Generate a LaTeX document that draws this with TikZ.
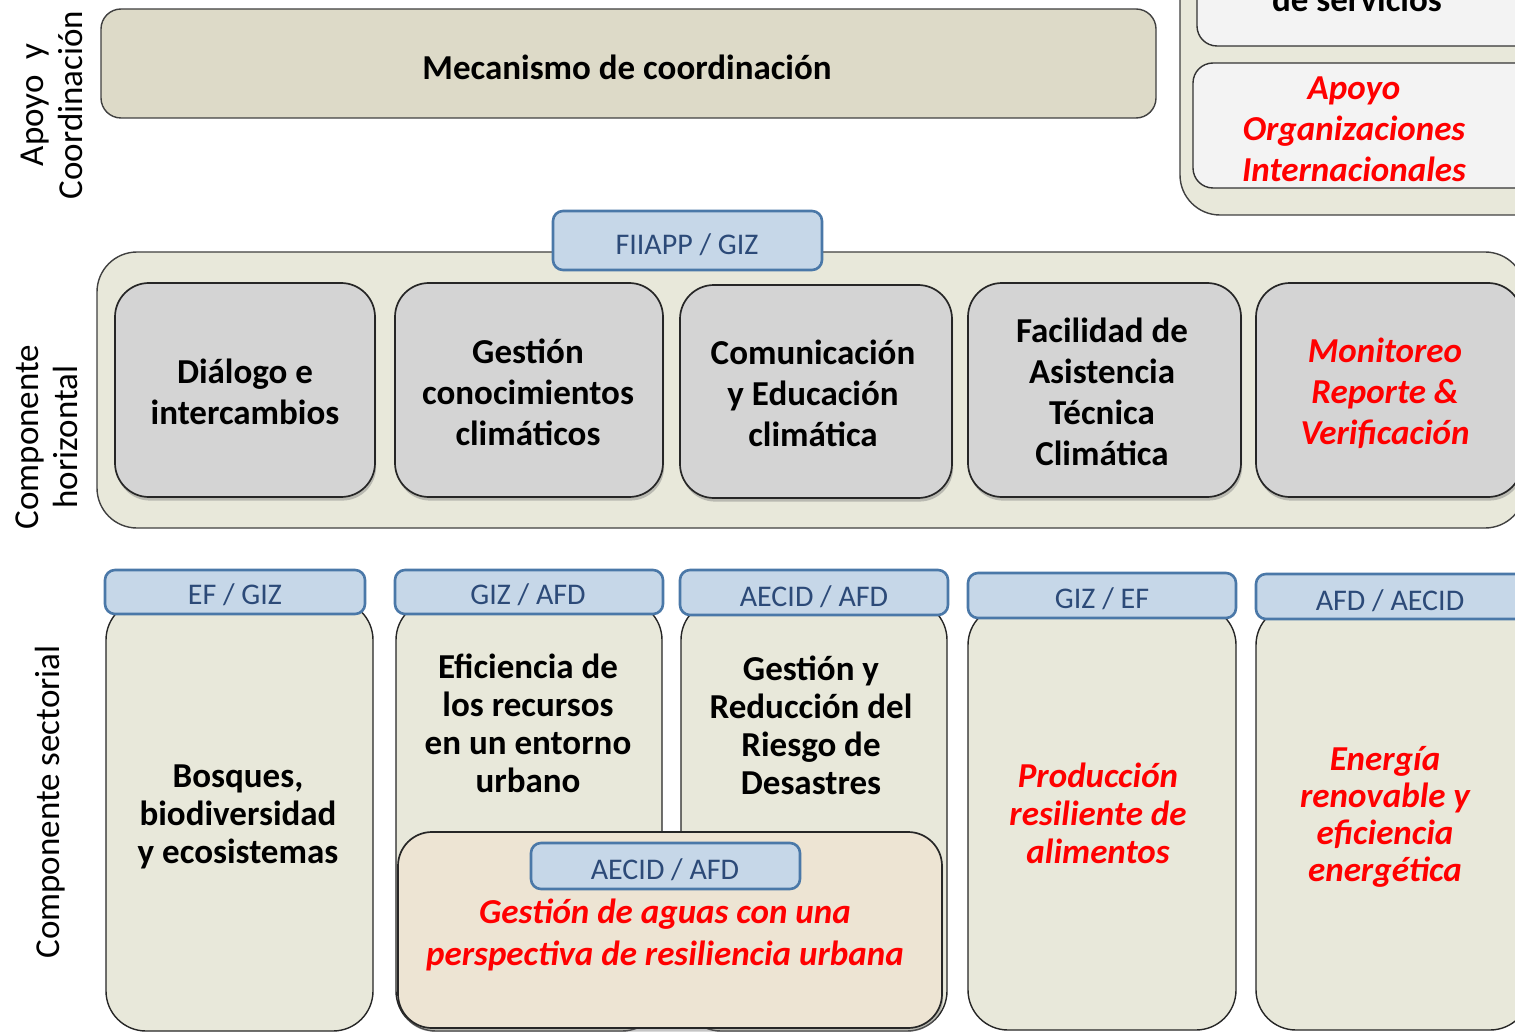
\documentclass[tikz,border=0pt]{standalone}
\usepackage{fontspec}
\setmainfont{Carlito}
\usetikzlibrary{shadows}
\definecolor{beigeL}{HTML}{E8E8DA}
\definecolor{beigeM}{HTML}{DDDAC8}
\definecolor{greyB}{HTML}{D4D4D4}
\definecolor{whiteB}{HTML}{F3F3F3}
\definecolor{waterB}{HTML}{EDE4D3}
\definecolor{tabF}{HTML}{C6D7E8}
\definecolor{tabD}{HTML}{4A78A8}
\definecolor{tabT}{HTML}{2C4A78}
\definecolor{redT}{HTML}{FF0000}
\begin{document}
\begin{tikzpicture}[x=0.5pt,y=-0.5pt,
 container/.style={draw=black!75, line width=0.7pt, fill=beigeL, rounded corners=20pt, inner sep=0pt},
 whitebox/.style={draw=black!80, line width=0.7pt, fill=whiteB, rounded corners=10pt, inner sep=0pt},
 greybox/.style={draw=black!85, line width=0.85pt, fill=greyB, rounded corners=17pt, inner sep=0pt,
   drop shadow={shadow xshift=0.6pt, shadow yshift=-1.8pt, opacity=0.45}},
 tabbox/.style={draw=tabD, line width=1.3pt, fill=tabF, rounded corners=5pt, inner sep=0pt,
   text=tabT, font=\fontsize{15}{18}\selectfont},
 tablabel/.style={text=tabT, font=\fontsize{15}{18}\selectfont},
 bodybox/.style={draw=black!85, line width=0.7pt, fill=beigeL, rounded corners=20pt, inner sep=0pt},
 bt/.style={font=\fontsize{17.5}{20.5}\selectfont\bfseries, align=center, inner sep=0pt},
 rt/.style={font=\fontsize{17.5}{20.5}\selectfont\bfseries\itshape, align=center, text=redT, inner sep=0pt},
 side/.style={font=\fontsize{17.5}{19.5}\selectfont, align=center, rotate=90, inner sep=0pt},
]
\clip (0,0) rectangle (1515,1032);
\fill[white] (0,0) rectangle (1515,1032);

% ---- Apoyo y coordinacion ----
\node[side] (lab1) at (52,105) {Apoyo~ y\\Coordinación};
\node[draw=black!75, line width=0.7pt, fill=beigeM, rounded corners=10pt, inner sep=0pt,
      minimum width=527.5pt, minimum height=54.5pt] (mec) at (628.5,63.5) {};
\node[bt] (mect) at (627,67) {Mecanismo de coordinación};

\node[container, minimum width=190pt, minimum height=137.5pt] (trc) at (1370,77.5) {};
\node[whitebox, minimum width=181.5pt, minimum height=63pt] (srv) at (1378.5,-17) {};
\node[bt, anchor=base] (srvt) at (1357,12) {de servicios};
\node[whitebox, minimum width=183.5pt, minimum height=62.5pt] (apo) at (1376.5,125.5) {};
\node[rt] (apot) at (1354,129) {Apoyo\\Organizaciones\\Internacionales};

% ---- Componente horizontal ----
\node[side] (lab2) at (47,437) {Componente\\horizontal};
\node[container, minimum width=714pt, minimum height=138pt] (hor) at (811,390) {};
\node[tabbox, minimum width=134.5pt, minimum height=29.5pt] (fiiapp) at (687.5,240.5) {};
\node[tablabel] (fiiappt) at (687,245) {FIIAPP / GIZ};

\node[greybox, minimum width=130pt, minimum height=107pt] (g1) at (245,390) {};
\node[bt] (g1t) at (245,392) {Diálogo e\\intercambios};
\node[greybox, minimum width=134pt, minimum height=107pt] (g2) at (529,390) {};
\node[bt] (g2t) at (528,392) {Gestión\\conocimientos\\climáticos};
\node[greybox, minimum width=136pt, minimum height=106.5pt] (g3) at (816,391.5) {};
\node[bt] (g3t) at (813,393) {Comunicación\\y Educación\\climática};
\node[greybox, minimum width=136.5pt, minimum height=107pt] (g4) at (1104.5,390) {};
\node[bt] (g4t) at (1102,392) {Facilidad de\\Asistencia\\Técnica\\Climática};
\node[greybox, minimum width=133pt, minimum height=107pt] (g5) at (1389,390) {};
\node[rt] (g5t) at (1385,393) {Monitoreo\\Reporte \&\\Verificación};

% ---- Componente sectorial ----
\node[side] (lab3) at (50,802) {Componente sectorial};

\node[bodybox, minimum width=133.5pt, minimum height=215.5pt] (b1) at (239.5,815.5) {};
\node[bodybox, minimum width=133pt, minimum height=215.5pt] (b2) at (529,815.5) {};
\node[bodybox, minimum width=133pt, minimum height=215.5pt] (b3) at (814,815.5) {};
\node[bodybox, minimum width=134pt, minimum height=212.5pt] (b4) at (1102,817.5) {};
\node[bodybox, minimum width=137pt, minimum height=212.5pt] (b5) at (1393,817.5) {};

\node[tabbox, minimum width=130pt, minimum height=22pt] (t1) at (235,592) {};
\node[tablabel] (t1t) at (235,595) {EF / GIZ};
\node[tabbox, minimum width=134pt, minimum height=22pt] (t2) at (529,592) {};
\node[tablabel] (t2t) at (528,595) {GIZ / AFD};
\node[tabbox, minimum width=134pt, minimum height=22.5pt] (t3) at (814,592.5) {};
\node[tablabel] (t3t) at (814,597) {AECID / AFD};
\node[tabbox, minimum width=134pt, minimum height=22.5pt] (t4) at (1102,595.5) {};
\node[tablabel] (t4t) at (1102,599) {GIZ / EF};
\node[tabbox, minimum width=137pt, minimum height=22.5pt] (t5) at (1393,596.5) {};
\node[tablabel] (t5t) at (1390,601) {AFD / AECID};

\node[bt, font=\fontsize{17.5}{19}\selectfont\bfseries] (b1t) at (238,817) {Bosques,\\biodiversidad\\y ecosistemas};
\node[bt, font=\fontsize{17.5}{19}\selectfont\bfseries] (b2t) at (528,723) {Eficiencia de\\los recursos\\en un entorno\\urbano};
\node[bt, font=\fontsize{17.5}{19}\selectfont\bfseries] (b3t) at (811,725) {Gestión y\\Reducción del\\Riesgo de\\Desastres};
\node[rt, font=\fontsize{17.5}{19}\selectfont\bfseries\itshape] (b4t) at (1098,813) {Producción\\resiliente de\\alimentos};
\node[rt, font=\fontsize{17.5}{18.5}\selectfont\bfseries\itshape] (b5t) at (1385,817) {Energía\\renovable y\\eficiencia\\energética};

\node[draw=black!85, line width=0.85pt, fill=waterB, rounded corners=17pt, inner sep=0pt,
      minimum width=272pt, minimum height=98pt,
      drop shadow={shadow xshift=0.6pt, shadow yshift=-1.8pt, opacity=0.45}] (wat) at (670,930) {};
\node[tabbox, minimum width=134.5pt, minimum height=23pt] (wtab) at (665.5,866) {};
\node[tablabel] (wtabt) at (665,870) {AECID / AFD};
\node[rt, font=\fontsize{17.5}{21}\selectfont\bfseries\itshape] (watt) at (665,935) {Gestión de aguas con una\\perspectiva de resiliencia urbana};
\end{tikzpicture}
\end{document}
